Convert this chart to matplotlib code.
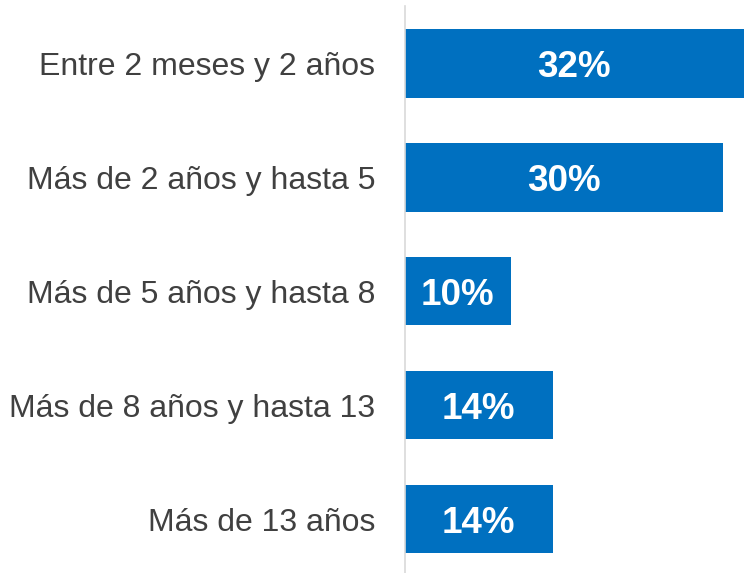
import matplotlib
matplotlib.use("Agg")
import matplotlib.pyplot as plt

categories = ["Entre 2 meses y 2 años", "Más de 2 años y hasta 5",
              "Más de 5 años y hasta 8", "Más de 8 años y hasta 13",
              "Más de 13 años"]
values = [32, 30, 10, 14, 14]
labels = ["32%", "30%", "10%", "14%", "14%"]

plt.rcParams['font.family'] = ['Liberation Sans', 'DejaVu Sans']

fig = plt.figure(figsize=(7.44, 5.73), dpi=100)
W, H = 744, 573
ax = fig.add_axes([404.5 / W, -3 / H, 1 - 404.5 / W, (573 - 6.5 + 3) / H])

pos = list(range(len(categories)))
ax.barh(pos, values, height=0.6, color="#0070C0", zorder=2)
for p, v, t in zip(pos, values, labels):
    ax.text(v / 2, p, t, ha="center", va="center_baseline", color="white",
            fontsize=26.5, fontweight="bold", zorder=3)

ax.set_xlim(0, 32)
ax.set_ylim(4.5, -0.5)
ax.set_yticks(pos)
ax.set_yticklabels(categories, fontsize=23, color="#404040")
ax.tick_params(axis="y", length=0, pad=21)
ax.set_xticks([])
for s in ["top", "right", "bottom"]:
    ax.spines[s].set_visible(False)
ax.spines["left"].set_color("#D9D9D9")
ax.spines["left"].set_linewidth(1.2)

fig.savefig("out.png", dpi=100)
